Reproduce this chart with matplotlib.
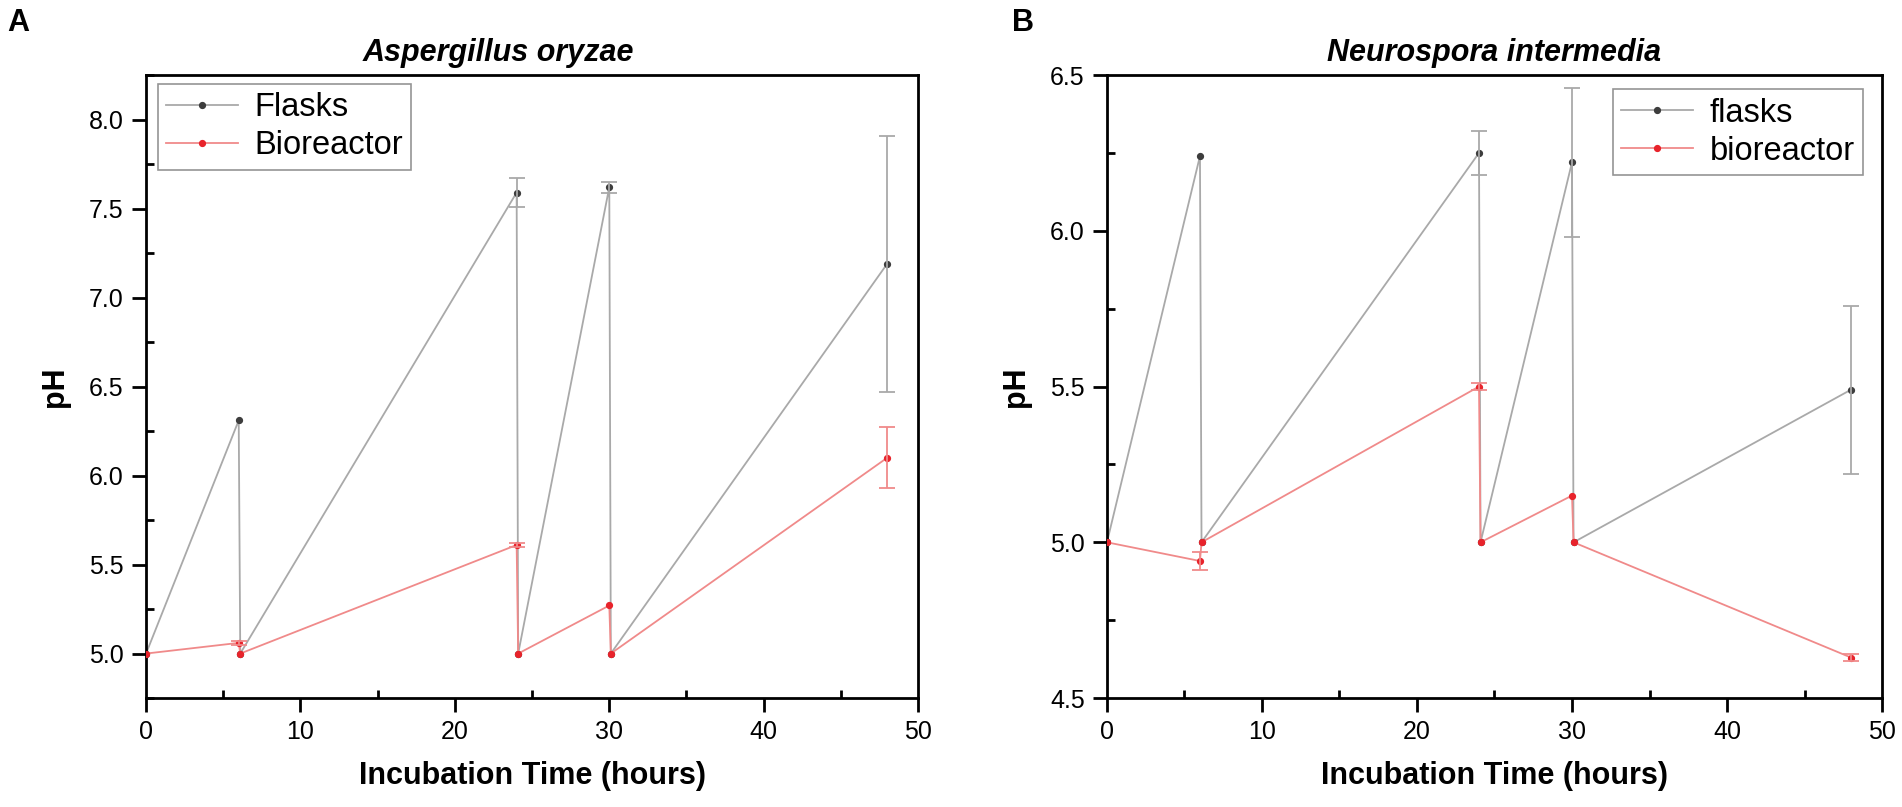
import numpy as np
import matplotlib
matplotlib.use("Agg")
import matplotlib.pyplot as plt
from matplotlib.ticker import MultipleLocator

plt.rcParams['font.family'] = ['Liberation Sans', 'DejaVu Sans']

# ---- data ----
time = [0, 6, 6.1, 24, 24.1, 30, 30.1, 48]

a_flasks = [5.00, 6.31, 5.00, 7.59, 5.00, 7.62, 5.00, 7.19]
a_flasks_err = [0, 0, 0, 0.08, 0, 0.03, 0, 0.72]
a_bio = [5.00, 5.06, 5.00, 5.61, 5.00, 5.27, 5.00, 6.10]
a_bio_err = [0, 0.01, 0, 0.01, 0, 0, 0, 0.17]

n_flasks = [5.00, 6.24, 5.00, 6.25, 5.00, 6.22, 5.00, 5.49]
n_flasks_err = [0, 0, 0, 0.07, 0, 0.24, 0, 0.27]
n_bio = [5.00, 4.94, 5.00, 5.50, 5.00, 5.15, 5.00, 4.63]
n_bio_err = [0, 0.03, 0, 0.01, 0, 0, 0, 0.01]

titles = ["Aspergillus oryzae", "Neurospora intermedia"]
labels_a = ["Flasks", "Bioreactor"]
labels_n = ["flasks", "bioreactor"]
panel_letters = ["A", "B"]
xlabel = "Incubation Time (hours)"
ylabel = "pH"

GRAY_LINE = "#a9a9a9"
GRAY_MARK = "#3d3d3d"
RED_LINE = "#f08a8a"
RED_MARK = "#e8232b"

fig = plt.figure(figsize=(19.02, 8.07), dpi=100)
ax1 = fig.add_axes([0.0768, 0.135, 0.4059, 0.772])
ax2 = fig.add_axes([0.582, 0.135, 0.4075, 0.772])


def draw(ax, t, y, err, line_c, mark_c, label, z):
    t = np.asarray(t); y = np.asarray(y); err = np.asarray(err)
    ax.plot(t, y, '-', color=line_c, lw=1.3, marker='o', ms=4.2,
            mfc=mark_c, mec=mark_c, label=label, zorder=z)
    m = err > 0
    ax.errorbar(t[m], y[m], yerr=err[m], fmt='none', ecolor=line_c,
                elinewidth=1.3, capsize=6, capthick=1.3, zorder=z)


def style(ax, ylim, title, title_x, letter, letter_x):
    ax.set_xlim(0, 50)
    ax.set_ylim(*ylim)
    ax.xaxis.set_major_locator(MultipleLocator(10))
    ax.xaxis.set_minor_locator(MultipleLocator(5))
    ax.yaxis.set_major_locator(MultipleLocator(0.5))
    ax.yaxis.set_minor_locator(MultipleLocator(0.25))
    ax.yaxis.set_major_formatter(matplotlib.ticker.FormatStrFormatter('%.1f'))
    ax.tick_params(which='major', direction='out', length=10, width=2,
                   labelsize=18, pad=6)
    ax.tick_params(which='minor', direction='in', length=6, width=2)
    for s in ax.spines.values():
        s.set_linewidth(2)
    ax.set_xlabel(xlabel, fontsize=22, fontweight='bold', labelpad=12)
    ax.set_ylabel(ylabel, fontsize=22, fontweight='bold', labelpad=14)
    ax.set_title(title, fontsize=22, fontweight='bold', style='italic',
                 x=title_x, pad=10)
    fig.text(letter_x, 0.972, letter, fontsize=22, fontweight='bold',
             ha='left', va='center')


legend_kw = dict(fontsize=23.5, frameon=True, fancybox=False,
                 edgecolor='#7a7a7a', handlelength=2.2, borderpad=0.25,
                 labelspacing=0.22, handletextpad=0.5, borderaxespad=0)

draw(ax1, time, a_flasks, a_flasks_err, GRAY_LINE, GRAY_MARK, labels_a[0], 2)
draw(ax1, time, a_bio, a_bio_err, RED_LINE, RED_MARK, labels_a[1], 3)
style(ax1, (4.75, 8.25), titles[0], 0.456, panel_letters[0], 0.004)
leg1 = ax1.legend(loc='upper left', bbox_to_anchor=(0.0155, 0.9856), **legend_kw)
leg1.get_frame().set_linewidth(1.2)

draw(ax2, time, n_flasks, n_flasks_err, GRAY_LINE, GRAY_MARK, labels_n[0], 2)
draw(ax2, time, n_bio, n_bio_err, RED_LINE, RED_MARK, labels_n[1], 3)
style(ax2, (4.5, 6.5), titles[1], 0.5, panel_letters[1], 0.532)
leg2 = ax2.legend(loc='upper right', bbox_to_anchor=(0.975, 0.977), **legend_kw)
leg2.get_frame().set_linewidth(1.2)

fig.savefig("out.png", dpi=100)
